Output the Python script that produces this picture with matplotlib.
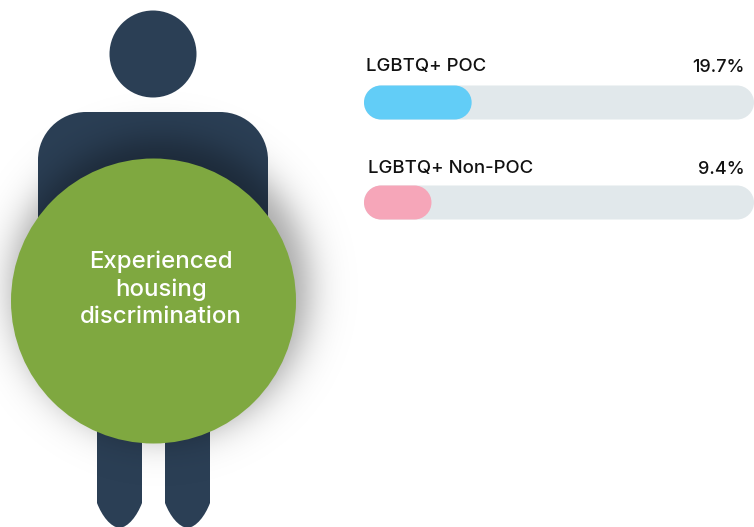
import matplotlib
matplotlib.use('Agg')
import matplotlib.pyplot as plt
from matplotlib.patches import Circle, PathPatch
from matplotlib.path import Path
import numpy as np

labels = ['LGBTQ+ POC', 'LGBTQ+ Non-POC']
values = [19.7, 9.4]
value_labels = ['19.7%', '9.4%']
colors = ['#62CDF7', '#F6A6B9']
center_lines = ['Experienced', 'housing', 'discrimination']

W, H = 754, 527
NAVY = '#2B3F55'
GREEN = '#7FA840'
TRACK = '#E1E8EB'
FONT = 'Inter'

def round_rect(x, y, w, h, r, **kw):
    k = 0.5523 * r
    x1, y1 = x + w, y + h
    verts = [(x + r, y), (x1 - r, y),
             (x1 - r + k, y), (x1, y + r - k), (x1, y + r),
             (x1, y1 - r),
             (x1, y1 - r + k), (x1 - r + k, y1), (x1 - r, y1),
             (x + r, y1),
             (x + r - k, y1), (x, y1 - r + k), (x, y1 - r),
             (x, y + r),
             (x, y + r - k), (x + r - k, y), (x + r, y),
             (x + r, y)]
    codes = [Path.MOVETO, Path.LINETO] + [Path.CURVE4] * 3 + [Path.LINETO] + [Path.CURVE4] * 3 + \
            [Path.LINETO] + [Path.CURVE4] * 3 + [Path.LINETO] + [Path.CURVE4] * 3 + [Path.CLOSEPOLY]
    return PathPatch(Path(verts, codes), ec='none', **kw)

def leg(x0, x1):
    mid = (x0 + x1) / 2
    verts = [(x0, 400), (x1, 400), (x1, 503),
             (x1 - 5, 516), (mid + 9, 527), (mid, 528),
             (mid - 9, 527), (x0 + 5, 516), (x0, 503), (x0, 400)]
    codes = [Path.MOVETO, Path.LINETO, Path.LINETO, Path.CURVE4, Path.CURVE4, Path.CURVE4,
             Path.CURVE4, Path.CURVE4, Path.CURVE4, Path.CLOSEPOLY]
    return PathPatch(Path(verts, codes), fc=NAVY, ec='none', zorder=1)

fig = plt.figure(figsize=(W / 100, H / 100), dpi=100, facecolor='white')

# whole figure in pixels, for the person
ax = fig.add_axes([0, 0, 1, 1])
ax.axis('off')

ax.add_patch(Circle((153, 54), 43.5, fc=NAVY, ec='none', zorder=1))
ax.add_patch(round_rect(38, 112, 230, 200, 48, fc=NAVY, zorder=1))
ax.add_patch(leg(97, 142))
ax.add_patch(leg(165, 210))

# soft shadow behind the green circle
yy, xx = np.mgrid[0:H, 0:W]
dist = np.hypot(xx - 160, yy - 288)
shadow = np.zeros((H, W, 4))
shadow[..., 3] = 0.36 / (1 + np.exp((dist - 148) / 11))
ax.imshow(shadow, extent=(0, W, H, 0), zorder=2, aspect='auto')
ax.set_xlim(0, W)
ax.set_ylim(H, 0)

ax.add_patch(Circle((153.5, 301), 142.5, fc=GREEN, ec='none', zorder=3))
for line, y in zip(center_lines, [262, 290, 317]):
    ax.text(161, y, line, color='white', fontsize=17.3, family=FONT, weight='medium',
            ha='center', va='center', zorder=4)

# bars: 100 units across the track, 3.9 px each
bx = fig.add_axes([364 / W, 1 - 230 / H, 390 / W, 160 / H])
bx.set_xlim(-7.9, 92.1)
bx.set_ylim(160 / 3.9, 0)
bx.axis('off')

h = 34 / 3.9
tops = [15.5 / 3.9, 115.5 / 3.9]
for i in range(len(values)):
    bx.add_patch(round_rect(-7.9, tops[i], 100, h, h / 2, fc=TRACK, clip_on=False))
    bx.add_patch(round_rect(-7.9, tops[i], values[i] + 7.9, h, h / 2, fc=colors[i], clip_on=False))

ax.set_zorder(0)
bx.set_zorder(1)

for label, vl, x, ly, vy in zip(labels, value_labels, [366, 367.5], [66, 168], [68, 170]):
    ax.text(x, ly, label, color='#111111', fontsize=13.4, family=FONT, weight='medium',
            ha='left', va='center', zorder=5)
    ax.text(745, vy, vl, color='#111111', fontsize=13, family=FONT, weight='medium',
            ha='right', va='center', zorder=5)

fig.savefig('out.png', dpi=100)
